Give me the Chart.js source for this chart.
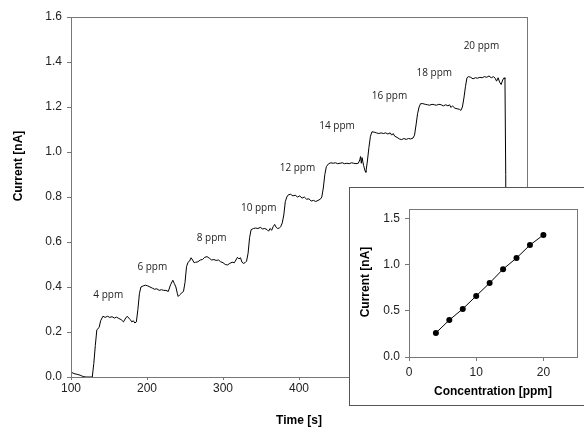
<!DOCTYPE html>
<html>
<head>
<meta charset="utf-8">
<script src="https://cdn.jsdelivr.net/npm/chart.js@4"></script>
<style>
    body { margin: 0; background: #fff; }
    #wrap { position: relative; width: 584px; height: 427px; }
    #inset {
        position: absolute; left: 349px; top: 187px;
        width: 236px; height: 219px;
        box-sizing: border-box; border: 1px solid #555; background: #fff;
    }
    canvas { display: block; }
</style>
</head>
<body>
<div id="wrap">
    <canvas id="mainChart" width="584" height="427"></canvas>
    <div id="inset"><canvas id="insetChart" width="234" height="217"></canvas></div>
</div>
<script>
// Amperometric trace
const timeS = [100, 104, 108, 112, 116, 120, 124, 128, 130, 132, 134, 137, 139, 142,
    145, 148, 151, 154, 157, 160, 163, 166, 169, 172, 174, 176, 178, 180, 182, 184, 186,
    188, 190, 192, 195, 198, 201, 204, 207, 210, 213, 216, 219, 222, 225, 228, 231, 234, 236, 238, 240, 241, 243, 246, 248,
    250, 252, 254, 256, 258, 260, 262, 264, 267, 270, 273, 276, 279, 282, 285, 288, 291, 294, 297, 300, 303, 306, 309, 312, 315, 317, 319, 321, 323, 325, 327, 329, 331, 333, 335, 337,
    340, 343, 346, 349, 352, 355, 358, 360, 362, 364, 366, 368, 370, 372, 374, 376, 378, 380, 382, 384,
    386, 389, 392, 395, 398, 401, 404, 407, 410, 413, 416, 419, 422, 425, 428, 430, 432, 434, 436, 439,
    442, 445, 448, 451, 454, 457, 460, 463, 466, 469, 472, 475, 478, 480, 481, 482, 483, 485, 487, 488, 490, 492, 494, 496,
    499, 502, 505, 508, 511, 514, 517, 520, 522, 524, 526, 529, 532, 535, 538, 541, 544, 547, 550, 552, 554, 556, 558, 560,
    563, 566, 569, 572, 575, 578, 581, 584, 587, 590, 593, 596, 598, 600, 602, 605, 608, 611, 613, 615, 617, 619, 621, 623,
    626, 629, 632, 635, 638, 641, 644, 647, 650, 653, 656, 658, 660, 662, 664, 666, 668, 670, 671, 672, 673];
const currentNA = [0.022, 0.015, 0.012, 0.008, 0.002, 0, 0, 0, 0.06, 0.14, 0.21, 0.22, 0.25, 0.27,
    0.265, 0.27, 0.265, 0.268, 0.262, 0.266, 0.26, 0.255, 0.245, 0.262, 0.27, 0.262, 0.255, 0.245, 0.25, 0.24, 0.245,
    0.30, 0.37, 0.40, 0.405, 0.408, 0.405, 0.40, 0.395, 0.39, 0.392, 0.385, 0.388, 0.385, 0.385, 0.38, 0.41, 0.43, 0.415, 0.40, 0.37, 0.358, 0.365, 0.375, 0.38,
    0.42, 0.49, 0.51, 0.515, 0.53, 0.52, 0.508, 0.51, 0.512, 0.52, 0.522, 0.532, 0.535, 0.528, 0.52, 0.522, 0.518, 0.52, 0.512, 0.508, 0.50, 0.498, 0.505, 0.51, 0.508, 0.52, 0.532, 0.525, 0.53, 0.51, 0.505, 0.508, 0.515, 0.55, 0.62, 0.655,
    0.66, 0.662, 0.66, 0.665, 0.658, 0.66, 0.655, 0.648, 0.66, 0.652, 0.668, 0.678, 0.665, 0.66, 0.662, 0.668, 0.685, 0.72, 0.78, 0.80,
    0.81, 0.812, 0.805, 0.808, 0.80, 0.805, 0.795, 0.80, 0.79, 0.792, 0.782, 0.785, 0.78, 0.785, 0.79, 0.80, 0.84, 0.90, 0.935, 0.948,
    0.952, 0.95, 0.952, 0.948, 0.95, 0.952, 0.948, 0.95, 0.948, 0.952, 0.95, 0.948, 0.95, 0.965, 0.98, 0.95, 0.975, 0.94, 0.915, 0.91, 0.96, 1.02, 1.07, 1.09,
    1.088, 1.085, 1.082, 1.085, 1.082, 1.085, 1.08, 1.085, 1.075, 1.082, 1.07, 1.065, 1.058, 1.055, 1.06, 1.056, 1.06, 1.058, 1.062, 1.075, 1.12, 1.17, 1.20, 1.215,
    1.215, 1.212, 1.21, 1.208, 1.212, 1.21, 1.208, 1.212, 1.21, 1.205, 1.21, 1.205, 1.21, 1.198, 1.205, 1.195, 1.192, 1.19, 1.185, 1.20, 1.24, 1.29, 1.33, 1.335,
    1.332, 1.325, 1.33, 1.328, 1.332, 1.33, 1.335, 1.332, 1.338, 1.33, 1.335, 1.328, 1.315, 1.33, 1.31, 1.30, 1.32, 1.33, 1.325, 0.9, 0];

// concentration step labels
const stepLabels = ['4 ppm', '6 ppm', '8 ppm', '10 ppm', '12 ppm', '14 ppm', '16 ppm', '18 ppm', '20 ppm'];
const stepLabelTime = [149, 207, 285, 347, 398, 450, 519, 578, 640];
const stepLabelCurrent = [0.364, 0.489, 0.618, 0.751, 0.929, 1.116, 1.249, 1.351, 1.471];

// calibration inset
const concPpm = [4, 6, 8, 10, 12, 14, 16, 18, 20];
const calCurrent = [0.26, 0.40, 0.52, 0.66, 0.80, 0.95, 1.07, 1.21, 1.32];

const tickFont = { family: 'Liberation Sans, Arial, sans-serif', size: 12 };
const titleFont = 'bold 12px Liberation Sans, Arial, sans-serif';
const axisColor = '#777';

// draws the box round the plot area and the axis titles
const frameAndTitles = (xTitle, yTitle, xTitlePos, yTitlePos) => ({
    id: 'frameAndTitles',
    afterDraw(chart) {
        const c = chart.ctx;
        const a = chart.chartArea;
        c.save();
        c.strokeStyle = axisColor;
        c.lineWidth = 1;
        c.strokeRect(Math.round(a.left) + 0.5, Math.round(a.top) + 0.5, a.right - a.left, a.bottom - a.top);
        c.fillStyle = '#000';
        c.font = titleFont;
        c.textAlign = 'center';
        c.textBaseline = 'middle';
        c.fillText(xTitle, xTitlePos[0], xTitlePos[1]);
        c.translate(yTitlePos[0], yTitlePos[1]);
        c.rotate(-Math.PI / 2);
        c.fillText(yTitle, 0, 0);
        c.restore();
    }
});

const ppmLabels = {
    id: 'ppmLabels',
    afterDatasetsDraw(chart) {
        const c = chart.ctx;
        const xs = chart.scales.x, ys = chart.scales.y;
        c.save();
        c.font = '10px "Open Sans", sans-serif';
        c.fillStyle = '#222';
        c.textAlign = 'center';
        c.textBaseline = 'middle';
        stepLabels.forEach((txt, i) => {
            c.fillText(txt, xs.getPixelForValue(stepLabelTime[i]), ys.getPixelForValue(stepLabelCurrent[i]));
        });
        c.restore();
    }
};

new Chart(document.getElementById('mainChart'), {
    type: 'line',
    data: {
        datasets: [{
            data: timeS.map((t, i) => ({ x: t, y: currentNA[i] })),
            borderColor: '#000',
            borderWidth: 1,
            pointRadius: 0,
            tension: 0
        }]
    },
    options: {
        responsive: false,
        animation: false,
        devicePixelRatio: 1,
        layout: { autoPadding: false, padding: { top: 17, right: 57, left: 0, bottom: 0 } },
        plugins: { legend: { display: false }, tooltip: { enabled: false } },
        scales: {
            x: {
                type: 'linear', min: 100, max: 700,
                afterFit: (s) => { s.height = 50; },
                ticks: { stepSize: 100, color: '#222', font: tickFont, padding: 1, maxRotation: 0 },
                grid: { drawOnChartArea: false, tickLength: 3, color: axisColor },
                border: { color: axisColor }
            },
            y: {
                min: 0, max: 1.6,
                afterFit: (s) => { s.width = 71; },
                ticks: { stepSize: 0.2, color: '#222', font: tickFont, padding: 5,
                    callback: (v) => v.toFixed(1) },
                grid: { drawOnChartArea: false, tickLength: 4, color: axisColor },
                border: { color: axisColor }
            }
        }
    },
    plugins: [ppmLabels, frameAndTitles('Time [s]', 'Current [nA]', [299, 421], [19, 166])]
});

new Chart(document.getElementById('insetChart'), {
    type: 'line',
    data: {
        datasets: [{
            data: concPpm.map((c, i) => ({ x: c, y: calCurrent[i] })),
            borderColor: '#000',
            backgroundColor: '#000',
            borderWidth: 1,
            pointRadius: 3,
            pointBorderWidth: 0,
            tension: 0
        }]
    },
    options: {
        responsive: false,
        animation: false,
        devicePixelRatio: 1,
        layout: { autoPadding: false, padding: { top: 21, right: 7, left: 0, bottom: 0 } },
        plugins: { legend: { display: false }, tooltip: { enabled: false } },
        scales: {
            x: {
                type: 'linear', min: 0, max: 25,
                afterFit: (s) => { s.height = 48; },
                ticks: { stepSize: 10, includeBounds: false, color: '#222', font: tickFont, padding: 4, maxRotation: 0 },
                grid: { drawOnChartArea: false, tickLength: 4, color: axisColor },
                border: { color: axisColor }
            },
            y: {
                min: 0, max: 1.6,
                afterFit: (s) => { s.width = 59; },
                ticks: { stepSize: 0.5, includeBounds: false, color: '#222', font: tickFont, padding: 5,
                    callback: (v) => v.toFixed(1) },
                grid: { drawOnChartArea: false, tickLength: 4, color: axisColor },
                border: { color: axisColor }
            }
        }
    },
    plugins: [frameAndTitles('Concentration [ppm]', 'Current [nA]', [143, 204], [16, 94])]
});
</script>
</body>
</html>
